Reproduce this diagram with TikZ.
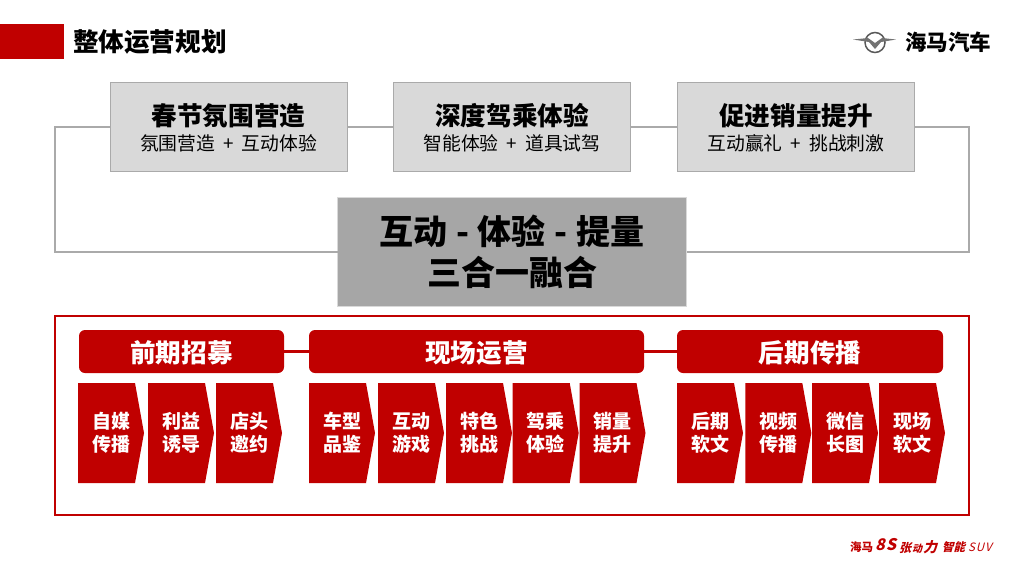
\documentclass[tikz,border=0pt]{standalone}
\usepackage{fontspec}
\setmainfont{Noto Sans CJK SC}
\newfontfamily\footfont[FakeSlant=0.25]{Noto Sans CJK SC}
\usetikzlibrary{positioning}
\definecolor{hmred}{RGB}{192,0,0}
\definecolor{hmbox}{RGB}{217,217,217}
\definecolor{hmline}{RGB}{170,170,170}
\definecolor{hmcore}{RGB}{166,166,166}
\newcommand{\plusgap}{\hspace{8pt}+\hspace{8pt}}

\begin{document}
\begin{tikzpicture}[x=1pt,y=-1pt,node distance=3pt,
	every node/.style={inner sep=0pt,outer sep=0pt},
	topbox/.style={draw=hmline,fill=hmbox,line width=1pt,minimum width=237pt,minimum height=89pt},
	headline/.style={font=\bfseries\fontsize{25.6}{29}\selectfont},
	subline/.style={font=\fontsize{18.8}{22}\selectfont},
	phase/.style={fill=hmred,rounded corners=6pt,text=white,font=\bfseries\fontsize{25.6}{29}\selectfont,minimum height=43pt,text height=24pt,text depth=1.6pt},
	chev/.style={text=white,font=\bfseries\fontsize{19}{23}\selectfont,minimum width=66pt,minimum height=100pt,align=center,
		path picture={\fill[hmred] (path picture bounding box.north west) -- ([xshift=-9pt]path picture bounding box.north east) -- (path picture bounding box.east) -- ([xshift=-9pt]path picture bounding box.south east) -- (path picture bounding box.south west) -- cycle;}},
	rail/.style={draw=hmline,line width=2pt},
	link/.style={draw=hmred,line width=3pt},
	foot/.style={text=hmred,anchor=west}]
	\useasboundingbox (0,0) rectangle (1024,576);

	% title bar
	\node[fill=hmred,minimum width=64pt,minimum height=35pt,anchor=north west] (bar) at (0,24) {};
	\node[headline,anchor=west] (title) [right=9pt of bar] {整体运营规划};

	% logo
	\node[font=\bfseries\fontsize{21.5}{24}\selectfont,anchor=west] (brand) at (905,42) {海马汽车};
	\node[draw=black!65,circle,line width=1.5pt,minimum size=20pt] (ring) at (875,42.5) {};
	\fill[black!55] (853,39.5) -- (868,38) -- (875,43) -- (882,38) -- (896,39.5) -- (881,42) -- (875,49) -- (869,42) -- cycle;

	% top row
	\node[topbox] (spring) at (228.5,126.5) {};
	\node[topbox] (drive) at (512,126.5) {};
	\node[topbox] (sales) at (796,126.5) {};
	\node[headline] (springh) at ([yshift=10.5pt]spring.center) {春节氛围营造};
	\node[subline] (springs) at ([yshift=-16.5pt]spring.center) {氛围营造\plusgap 互动体验};
	\node[headline] (driveh) at ([yshift=10.5pt]drive.center) {深度驾乘体验};
	\node[subline] (drives) at ([yshift=-16.5pt]drive.center) {智能体验\plusgap 道具试驾};
	\node[headline] (salesh) at ([yshift=10.5pt]sales.center) {促进销量提升};
	\node[subline] (saless) at ([yshift=-16.5pt]sales.center) {互动赢礼\plusgap 挑战刺激};

	% centre
	\node[fill=hmcore,draw=hmbox,minimum width=349pt,minimum height=109pt,align=center,font=\bfseries\fontsize{34}{41}\selectfont] (core) at (512,251.5) {互动\hspace{1pt} - \hspace{1pt}体验\hspace{1pt} - \hspace{1pt}提量\\三合一融合};

	\coordinate (railL) at (55,251.5);
	\coordinate (railR) at (969,251.5);
	\draw[rail] (spring) -- (drive);
	\draw[rail] (drive) -- (sales);
	\draw[rail] (spring.west) -| (railL) -- (core.west);
	\draw[rail] (sales.east) -| (railR) -- (core.east);

	% red frame
	\node[draw=hmred,line width=2pt,minimum width=914pt,minimum height=199pt] (frame) at (512,415.5) {};

	% phases
	\node[phase,minimum width=205pt] (pre) at (181.5,351.5) {前期招募};
	\node[phase,minimum width=335pt] (live) at (476.5,351.5) {现场运营};
	\node[phase,minimum width=266pt] (post) at (810,351.5) {后期传播};
	\draw[link] (pre) -- (live);
	\draw[link] (live) -- (post);

	% chevrons
	\node[chev] (a1) at (111,433) {自媒\\传播};
	\node[chev] (a2) [right=4pt of a1] {利益\\诱导};
	\node[chev] (a3) [right=2pt of a2] {店头\\邀约};

	\node[chev] (b1) at (342,433) {车型\\品鉴};
	\node[chev] (b2) [right=3pt of b1] {互动\\游戏};
	\node[chev] (b3) [right=2pt of b2] {特色\\挑战};
	\node[chev] (b4) [right=.7pt of b3] {驾乘\\体验};
	\node[chev] (b5) [right=.8pt of b4] {销量\\提升};

	\node[chev] (c1) at (710,433) {后期\\软文};
	\node[chev] (c2) [right=2.3pt of c1] {视频\\传播};
	\node[chev] (c3) [right=.7pt of c2] {微信\\长图};
	\node[chev] (c4) [right=1pt of c3] {现场\\软文};

	% footer
	\node[foot,font=\bfseries\fontsize{11.5}{13}\selectfont] (brandfoot) at (850,547) {海马};
	\node[foot,font=\footfont\bfseries\fontsize{16}{18}\selectfont] (model) at (875,545) {8\hspace{1pt}S};
	\node[foot,font=\footfont\bfseries\fontsize{12}{14}\selectfont] (power) at (899,547) {张\hspace{1pt}{\fontsize{10}{12}\selectfont 动}\hspace{1pt}{\fontsize{14}{14}\selectfont 力}};
	\node[foot,font=\footfont\bfseries\fontsize{11.5}{13}\selectfont] (smart) at (942,547) {智能};
	\node[foot,font=\footfont\fontsize{11.5}{13}\selectfont] (suv) at (968,547) {S\hspace{1pt}U\hspace{1pt}V};
\end{tikzpicture}
\end{document}
